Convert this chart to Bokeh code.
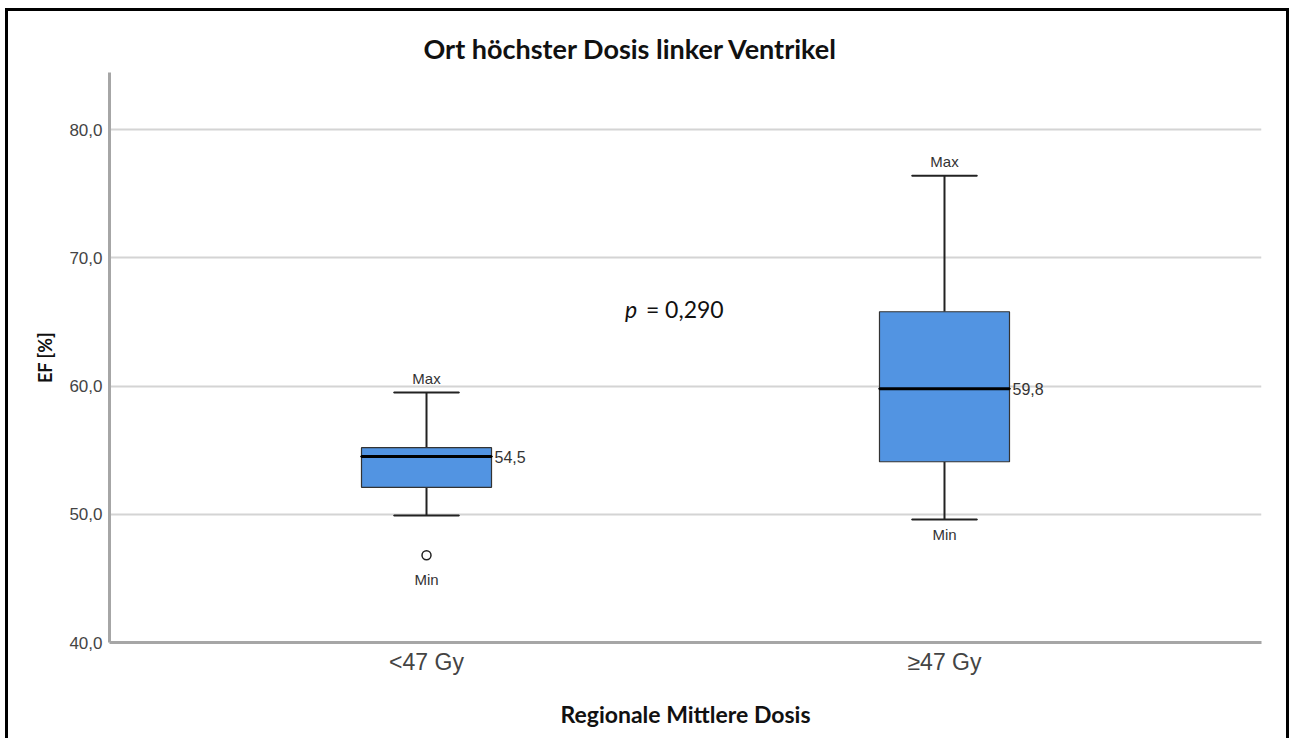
from bokeh.plotting import figure
from bokeh.models import ColumnDataSource, FixedTicker, Label, Title
from bokeh.core.properties import value
from bokeh.embed import file_html
from bokeh.resources import INLINE

# ---- data ----
groups = ["<47 Gy", "≥47 Gy"]
positions = [1, 2]
q1 = [52.1, 54.1]
median = [54.5, 59.8]
q3 = [55.2, 65.8]
whisker_low = [49.9, 49.6]
whisker_high = [59.5, 76.4]
outlier_x = [1]
outlier_y = [46.8]
median_labels = ["54,5", "59,8"]
y_ticks = [40, 50, 60, 70, 80]
y_tick_labels = ["40,0", "50,0", "60,0", "70,0", "80,0"]
min_values = [min([whisker_low[0]] + outlier_y), whisker_low[1]]
p_text = "= 0,290"
title_text = "Ort höchster Dosis linker Ventrikel"

BOX_W = 0.251
CAP_W = 0.1255
FILL = "#5294e2"

p = figure(width=1284, height=745, output_backend="svg", toolbar_location=None,
           x_range=(0.388, 2.612), y_range=(40, 84.46),
           min_border_left=101, min_border_right=31, min_border_top=61, min_border_bottom=114)
p.styles = {"border": "3px solid black", "margin-top": "8px", "margin-left": "5px"}
p.outline_line_color = None
p.background_fill_color = "white"
p.border_fill_color = "white"

t = Title(text=title_text, align="left", offset=314, text_font="Lato", text_font_style="bold",
          text_font_size="27px", text_color="#111111", standoff=16)
p.add_layout(t, "above")

src = ColumnDataSource(dict(x=positions, q1=q1, med=median, q3=q3, lo=whisker_low, hi=whisker_high,
                            mlab=median_labels, minv=min_values, minoff=[16, 7]))

# whiskers
p.segment(x0="x", y0="q3", x1="x", y1="hi", source=src, line_color="#222222", line_width=2)
p.segment(x0="x", y0="lo", x1="x", y1="q1", source=src, line_color="#222222", line_width=2)
p.rect(x="x", y="hi", width=CAP_W, height=0.001, source=src, line_color="#222222", line_width=2, fill_color=None)
p.rect(x="x", y="lo", width=CAP_W, height=0.001, source=src, line_color="#222222", line_width=2, fill_color=None)
# boxes
p.vbar(x="x", width=BOX_W, bottom="q1", top="q3", source=src, fill_color=FILL,
       line_color="#333333", line_width=1.2)
# medians
p.rect(x="x", y="med", width=BOX_W, height=0.001, source=src, line_color="black", line_width=3, fill_color=None)
# outliers
p.scatter(outlier_x, outlier_y, marker="circle", size=9, fill_color="white", line_color="#222222", line_width=1.5)

# labels
p.text(x="x", y="med", text="mlab", source=src, x_offset=BOX_W / 2 * 518 + 3, text_baseline="middle",
       text_align="left", text_font=value("Liberation Sans"), text_font_size="16px", text_color="#333333")
p.text(x="x", y="hi", text=value("Max"), source=src, y_offset=-6, text_baseline="bottom",
       text_align="center", text_font=value("Liberation Sans"), text_font_size="15px", text_color="#333333")
p.text(x="x", y="minv", text=value("Min"), source=src, y_offset="minoff", text_baseline="top",
       text_align="center", text_font=value("Liberation Sans"), text_font_size="15px", text_color="#333333")

# p-value
p.add_layout(Label(x=1.383, y=66.0, text="p", text_font="Lato", text_font_style="italic",
                   text_font_size="23px", text_color="#111111", text_baseline="middle", text_align="left"))
p.add_layout(Label(x=1.383, y=66.0, x_offset=21, text=p_text, text_font="Lato",
                   text_font_size="23px", text_color="#111111", text_baseline="middle", text_align="left"))

# axes
p.xaxis.ticker = FixedTicker(ticks=positions)
p.xaxis.major_label_overrides = {pos: g for pos, g in zip(positions, groups)}
p.yaxis.ticker = FixedTicker(ticks=y_ticks)
p.yaxis.major_label_overrides = {tk: l for tk, l in zip(y_ticks, y_tick_labels)}
for ax in (p.xaxis, p.yaxis):
    ax.axis_line_color = "#a6a6a6"
    ax.axis_line_width = 3
    ax.major_tick_line_color = None
    ax.minor_tick_line_color = None
    ax.major_tick_out = 0
    ax.major_tick_in = 0
    ax.major_label_text_font = "Liberation Sans"
    ax.major_label_text_color = "#444444"
    ax.axis_label_text_font = "Lato"
    ax.axis_label_text_font_style = "bold"
    ax.axis_label_text_color = "#111111"
p.xaxis.major_label_text_font_size = "23px"
p.xaxis.major_label_standoff = 6
p.yaxis.major_label_text_font_size = "17px"
p.yaxis.major_label_standoff = 7
p.xaxis.axis_label = "Regionale Mittlere Dosis"
p.xaxis.axis_label_text_font_size = "23px"
p.xaxis.axis_label_standoff = 22
p.yaxis.axis_label = "EF [%]"
p.yaxis.axis_label_text_font_size = "18px"
p.yaxis.axis_label_standoff = 10

p.xgrid.grid_line_color = None
p.ygrid.ticker = FixedTicker(ticks=y_ticks)
p.ygrid.grid_line_color = "#d4d4d4"
p.ygrid.grid_line_width = 2

open("out.html", "w").write(file_html(p, INLINE))
